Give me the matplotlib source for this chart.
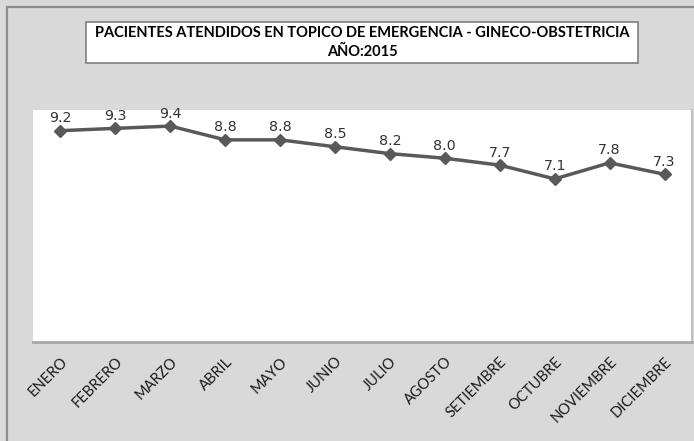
import matplotlib
matplotlib.use("Agg")
import matplotlib.pyplot as plt
from matplotlib.patches import Rectangle

months = ["ENERO", "FEBRERO", "MARZO", "ABRIL", "MAYO", "JUNIO", "JULIO",
          "AGOSTO", "SETIEMBRE", "OCTUBRE", "NOVIEMBRE", "DICIEMBRE"]
values = [9.2, 9.3, 9.4, 8.8, 8.8, 8.5, 8.2, 8.0, 7.7, 7.1, 7.8, 7.3]
title_lines = ["PACIENTES ATENDIDOS EN TOPICO DE EMERGENCIA - GINECO-OBSTETRICIA", "AÑO:2015"]

W, H = 694, 441
fig = plt.figure(figsize=(W / 100, H / 100), dpi=100, facecolor="#d9d9d9")

# outer border
fig.add_artist(Rectangle((7 / W, -0.05), 1.1, 1 - 7 / H + 0.05, transform=fig.transFigure,
                         fill=False, edgecolor="#8c8c8c", linewidth=1.6))

ax = fig.add_axes([33 / W, 1 - 342 / H, (692 - 33) / W, (342 - 110) / H])
ax.set_facecolor("white")
x = list(range(len(months)))
ax.plot(x, values, color="#595959", linewidth=2.5, marker="D", markersize=6.5,
        markerfacecolor="#595959", markeredgecolor="#595959", zorder=3)
for xi, v in zip(x, values):
    ax.annotate(f"{v:.1f}", (xi, v), xytext=(0, 4), textcoords="offset points",
                ha="center", va="bottom", fontsize=10.3, color="#333333",
                family="DejaVu Sans")
ax.set_xlim(-0.5, len(months) - 0.5)
ax.set_ylim(0, 10.1)
ax.set_yticks([])
ax.set_xticks(x)
ax.set_xticklabels(months, rotation=45, ha="right", va="top", rotation_mode="anchor",
                   fontsize=10.5, family="Lato", color="#1a1a1a")
ax.tick_params(axis="x", length=0, pad=9)
for side in ["left", "top"]:
    ax.spines[side].set_visible(False)
ax.spines["bottom"].set_color("#a6a6a6")
ax.spines["bottom"].set_linewidth(2)
ax.spines["right"].set_color("#bfbfbf")
ax.spines["right"].set_linewidth(1.5)

# title box
fig.add_artist(Rectangle((86 / W, 1 - 63 / H), (638 - 86) / W, (63 - 22) / H,
                         transform=fig.transFigure, facecolor="white",
                         edgecolor="#7f7f7f", linewidth=1.2))
fig.text((86 + 638) / 2 / W, 1 - 42.5 / H, "\n".join(title_lines), ha="center", va="center",
         fontsize=10.5, fontweight="bold", family="Lato", color="#000000", linespacing=1.35)

fig.savefig("out.png", dpi=100, facecolor=fig.get_facecolor())
